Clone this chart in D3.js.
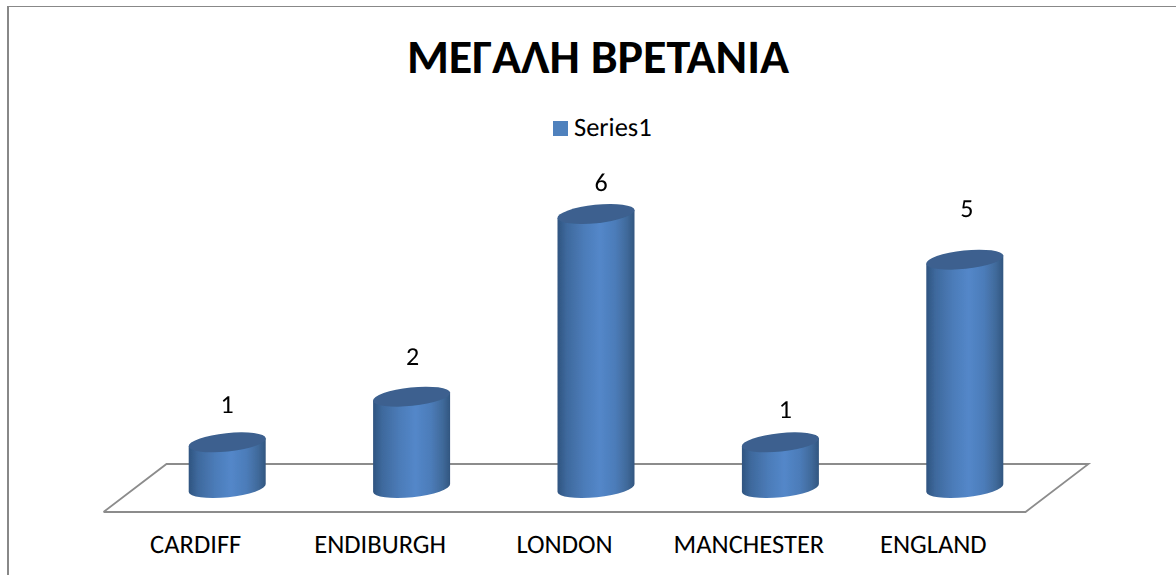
<!DOCTYPE html>
<html><head><meta charset="utf-8">
<script src="https://cdn.jsdelivr.net/npm/d3@7"></script>
<style>html,body{margin:0;padding:0;background:#fff;overflow:hidden}svg{display:block}</style>
</head><body><div id="chart"></div>
<script>
const categories = ["CARDIFF","ENDIBURGH","LONDON","MANCHESTER","ENGLAND"];
const values = [1,2,6,1,5];
const seriesName = "Series1";
const chartTitle = "ΜΕΓΑΛΗ ΒΡΕΤΑΝΙΑ";
// hand-placed shift of each value label relative to its cylinder top
const labelLift = [29,32,23,24,43];
const labelNudge = [0,1,5,5,2];

const W=1176,H=575, FONT="Carlito, 'Open Sans', 'Noto Sans', sans-serif";
const svg=d3.select("#chart").append("svg").attr("width",W).attr("height",H)
  .style("font-family",FONT).attr("text-rendering","geometricPrecision");
const defs=svg.append("defs");
const grad=defs.append("linearGradient").attr("id","cyl").attr("x1",0).attr("x2",1).attr("y1",0).attr("y2",0);
[[0,"#2f5480"],[.12,"#3e699d"],[.35,"#4c7cb9"],[.55,"#5387c9"],[.75,"#4c7cb9"],[.9,"#406a9b"],[1,"#325680"]]
  .forEach(([o,c])=>grad.append("stop").attr("offset",o).attr("stop-color",c));
const soft=defs.append("filter").attr("id","soft").attr("x","-5%").attr("y","-5%").attr("width","110%").attr("height","110%");
soft.append("feGaussianBlur").attr("stdDeviation",0.45);

// frame
svg.append("path").attr("d",`M8,${H}V6.5H${W}`).attr("fill","none").attr("stroke","#888").attr("stroke-width",1);
svg.append("line").attr("x1",8).attr("x2",8).attr("y1",6).attr("y2",H).attr("stroke","#888").attr("stroke-width",2);

// scales
const front={l:103.5,r:1025.5,y:512}, depth={x:63,y:-48};
const x=d3.scaleBand().domain(categories).range([front.l,front.r]);
const y=d3.scaleLinear().domain([0,6]).range([front.y+depth.y/2,front.y+depth.y/2-274]);

// floor
svg.append("path").attr("fill","none").attr("stroke","#8c8c8c").attr("stroke-width",1.8)
  .attr("d",d3.line()([[front.l,front.y],[front.r,front.y],[front.r+depth.x,front.y+depth.y],[front.l+depth.x,front.y+depth.y],[front.l,front.y]]));

// title + legend
svg.append("text").attr("x",598).attr("y",73).attr("text-anchor","middle")
  .attr("font-size",48).attr("font-weight",700).attr("fill","#000").text(chartTitle);
const lg=svg.append("g");
lg.append("rect").attr("x",553).attr("y",121).attr("width",15).attr("height",15).attr("fill","#4f81bd");
lg.append("text").attr("x",574).attr("y",136).attr("font-size",26.5).attr("fill","#000").text(seriesName);

// cylinders
const rx=38.5, ry=9.2, tilt=-6, tr=tilt*Math.PI/180;
const ex=rx, ey=rx*Math.tan(-tr);
const marks=svg.append("g").attr("filter","url(#soft)");
const g=marks.selectAll("g").data(categories.map((c,i)=>({c,v:values[i],i}))).join("g")
  .attr("transform",d=>`translate(${x(d.c)+x.bandwidth()/2+depth.x/2},0)`);
g.append("path").attr("fill","url(#cyl)").attr("d",d=>{
  const t=y(d.v), b=y(0);
  return `M${-ex},${t+ey}L${ex},${t-ey}L${ex},${b-ey}A${rx},${ry} ${tilt} 0 1 ${-ex},${b+ey}Z`;
});
g.append("ellipse").attr("cx",0).attr("cy",d=>y(d.v)).attr("rx",rx+0.3).attr("ry",ry)
  .attr("transform",d=>`rotate(${tilt} 0 ${y(d.v)})`).attr("fill","#3c618f");

// value labels
svg.selectAll("text.val").data(values).join("text").attr("class","val")
  .attr("x",(d,i)=>x(categories[i])+x.bandwidth()/2+depth.x/2+labelNudge[i])
  .attr("y",(d,i)=>y(d)-labelLift[i])
  .attr("text-anchor","middle").attr("font-size",26).attr("fill","#000").text(d=>d);

// category axis
const ax=svg.append("g").attr("transform",`translate(0,${front.y+17})`)
  .call(d3.axisBottom(x).tickSize(0).tickPadding(5));
ax.select(".domain").remove();
ax.selectAll("text").attr("font-size",26.5).attr("font-family",FONT).attr("fill","#000");
</script></body></html>
